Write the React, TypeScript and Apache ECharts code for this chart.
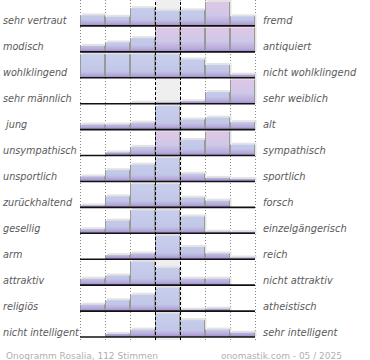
import React, { useEffect, useRef } from "react";
import * as echarts from "echarts";

const leftLabels = [
  "sehr vertraut", "modisch", "wohlklingend", "sehr männlich", " jung", "unsympathisch",
  "unsportlich", "zurückhaltend", "gesellig", "arm", "attraktiv", "religiös", "nicht intelligent",
];
const rightLabels = [
  "fremd", "antiquiert", "nicht wohlklingend", "sehr weiblich", "alt", "sympathisch",
  "sportlich", "forsch", "einzelgängerisch", "reich", "nicht attraktiv", "atheistisch", "sehr intelligent",
];
// share of each of the 7 answer steps, as % of the row's full bar height (100 = capped)
const row0 = [44, 38, 74, 63, 65, 100, 40];
const row1 = [25, 39, 57, 100, 100, 100, 100];
const row2 = [98, 98, 98, 98, 76, 53, 13];
const row3 = [0, 0, 4, 6, 10, 48, 100];
const row4 = [21, 21, 29, 98, 42, 50, 31];
const row5 = [0, 13, 36, 100, 65, 100, 45];
const row6 = [21, 47, 70, 98, 32, 15, 10];
const row7 = [8, 46, 97, 97, 40, 28, 0];
const row8 = [17, 53, 96, 96, 70, 7, 6];
const row9 = [0, 17, 24, 98, 51, 24, 7];
const row10 = [27, 40, 98, 72, 27, 27, 0];
const row11 = [27, 45, 68, 98, 6, 10, 0];
const row12 = [0, 13, 31, 98, 70, 31, 18];
const rows = [row0, row1, row2, row3, row4, row5, row6, row7, row8, row9, row10, row11, row12];
const steps = 7;
const neutralStep = 3;
const footerLeft = "Onogramm Rosalia, 112 Stimmen";
const footerRight = "onomastik.com - 05 / 2025";

const FONT = "DejaVu Sans";
const BAR_MAX = 24 / 25.92;

export default function App() {
  const ref = useRef<HTMLDivElement>(null);
  useEffect(() => {
    if (!ref.current) return;
    const chart = echarts.init(ref.current, null, { renderer: "svg" });

    const barData: number[][] = [];
    rows.forEach((r, ri) => r.forEach((v, ci) => barData.push([ci, ri, v])));

    const blueStops = [
      { offset: 0, color: "#c8cfec" },
      { offset: 0.72, color: "#c2c7e8" },
      { offset: 0.88, color: "#b6aadb" },
      { offset: 1, color: "#9c88c8" },
    ];
    const pinkStops = [
      { offset: 0, color: "#e0c6e6" },
      { offset: 0.55, color: "#cfc8e8" },
      { offset: 0.88, color: "#b6aadb" },
      { offset: 1, color: "#9c88c8" },
    ];

    const renderBar = (params: any, api: any) => {
      const c = api.value(0);
      const r = api.value(1);
      const v = api.value(2);
      if (!v) return { type: "group", children: [] };
      const p0 = api.coord([c, r + 1]);
      const p1 = api.coord([c + 1, r + 1]);
      const topY = api.coord([c, r + 1 - (v / 100) * BAR_MAX])[1];
      const fullTop = api.coord([c, r + 1 - BAR_MAX])[1];
      const x0 = p0[0];
      const x1 = p1[0];
      const base = p0[1];
      const stops = v >= 100 ? pinkStops : blueStops;
      return {
        type: "group",
        children: [
          {
            type: "rect",
            shape: { x: x0 + 2, y: topY - 2, width: x1 - x0 - 0.5, height: base - topY + 2 },
            style: { fill: "#e3e3e3" },
          },
          {
            type: "rect",
            shape: { x: x0, y: topY, width: x1 - x0, height: base - topY },
            style: { fill: new echarts.graphic.LinearGradient(0, fullTop, 0, base, stops, true) },
          },
          {
            type: "line",
            shape: { x1: x0 + 0.5, y1: topY, x2: x0 + 0.5, y2: base },
            style: { stroke: "#999", lineWidth: 1 },
          },
          {
            type: "line",
            shape: { x1: x1 - 0.5, y1: topY, x2: x1 - 0.5, y2: base },
            style: { stroke: "#999", lineWidth: 1 },
          },
        ],
      };
    };

    const renderBase = (params: any, api: any) => {
      const r = api.value(0);
      const a = api.coord([0, r + 1]);
      const b = api.coord([steps, r + 1]);
      return {
        type: "line",
        shape: { x1: a[0], y1: a[1], x2: b[0], y2: b[1] },
        style: { stroke: "#111", lineWidth: 1.6 },
      };
    };

    const option: any = {
      animation: false,
      textStyle: { fontFamily: FONT },
      title: [
        {
          text: footerLeft,
          left: 1,
          top: 346,
          textStyle: { fontSize: 9, fontWeight: "normal", color: "#b0b0b0", fontFamily: FONT },
        },
        {
          text: footerRight,
          right: 23,
          top: 346,
          textStyle: { fontSize: 9, fontWeight: "normal", color: "#b0b0b0", fontFamily: FONT },
        },
      ],
      grid: [
        { left: 80, width: 175, top: 0, height: 337 },
        { left: 80, width: 175, top: 0, height: 340 },
        { left: 80, width: 175, top: 8, height: 337 },
      ],
      xAxis: [
        { gridIndex: 0, type: "value", min: 0, max: steps, show: false },
        {
          gridIndex: 1,
          type: "value",
          min: 0,
          max: steps,
          interval: 1,
          axisLine: { show: false },
          axisTick: { show: false },
          axisLabel: { show: false },
          splitLine: { show: true, lineStyle: { color: "#888", type: [1, 2], width: 1 } },
        },
        { gridIndex: 2, type: "value", show: false },
      ],
      yAxis: [
        { gridIndex: 0, type: "value", min: 0, max: rows.length, inverse: true, show: false },
        { gridIndex: 1, type: "value", min: 0, max: 1, show: false },
        {
          gridIndex: 2,
          type: "category",
          data: leftLabels,
          inverse: true,
          position: "left",
          axisLine: { show: false },
          axisTick: { show: false },
          splitLine: { show: false },
          axisLabel: {
            interval: 0,
            align: "left",
            margin: 80,
            fontSize: 9.7,
            fontStyle: "italic",
            color: "#5a5a5a",
            fontFamily: FONT,
          },
        },
        {
          gridIndex: 2,
          type: "category",
          data: rightLabels,
          inverse: true,
          position: "right",
          axisLine: { show: false },
          axisTick: { show: false },
          splitLine: { show: false },
          axisLabel: {
            interval: 0,
            align: "left",
            margin: 8,
            fontSize: 9.9,
            fontStyle: "italic",
            color: "#5a5a5a",
            fontFamily: FONT,
          },
        },
      ],
      series: [
        {
          type: "line",
          xAxisIndex: 1,
          yAxisIndex: 1,
          data: [],
          z: 1,
          silent: true,
          markArea: {
            silent: true,
            itemStyle: { color: "#efefef" },
            label: { show: false },
            data: [[{ xAxis: neutralStep }, { xAxis: neutralStep + 1 }]],
          },
        },
        {
          type: "custom",
          xAxisIndex: 0,
          yAxisIndex: 0,
          z: 3,
          silent: true,
          renderItem: renderBar,
          data: barData,
        },
        {
          type: "custom",
          xAxisIndex: 0,
          yAxisIndex: 0,
          z: 4,
          silent: true,
          renderItem: renderBase,
          data: rows.map((_, i) => [i]),
        },
        {
          type: "line",
          xAxisIndex: 1,
          yAxisIndex: 1,
          data: [],
          z: 10,
          silent: true,
          markLine: {
            silent: true,
            symbol: "none",
            label: { show: false },
            lineStyle: { color: "#000", type: [3, 2], width: 1 },
            data: [{ xAxis: neutralStep }, { xAxis: neutralStep + 1 }],
          },
        },
      ],
    };
    chart.setOption(option);
    return () => chart.dispose();
  }, []);
  return (
    <div
      ref={ref}
      style={{ position: "fixed", left: 0, top: 0, width: 370, height: 360, background: "#fff" }}
    />
  );
}
